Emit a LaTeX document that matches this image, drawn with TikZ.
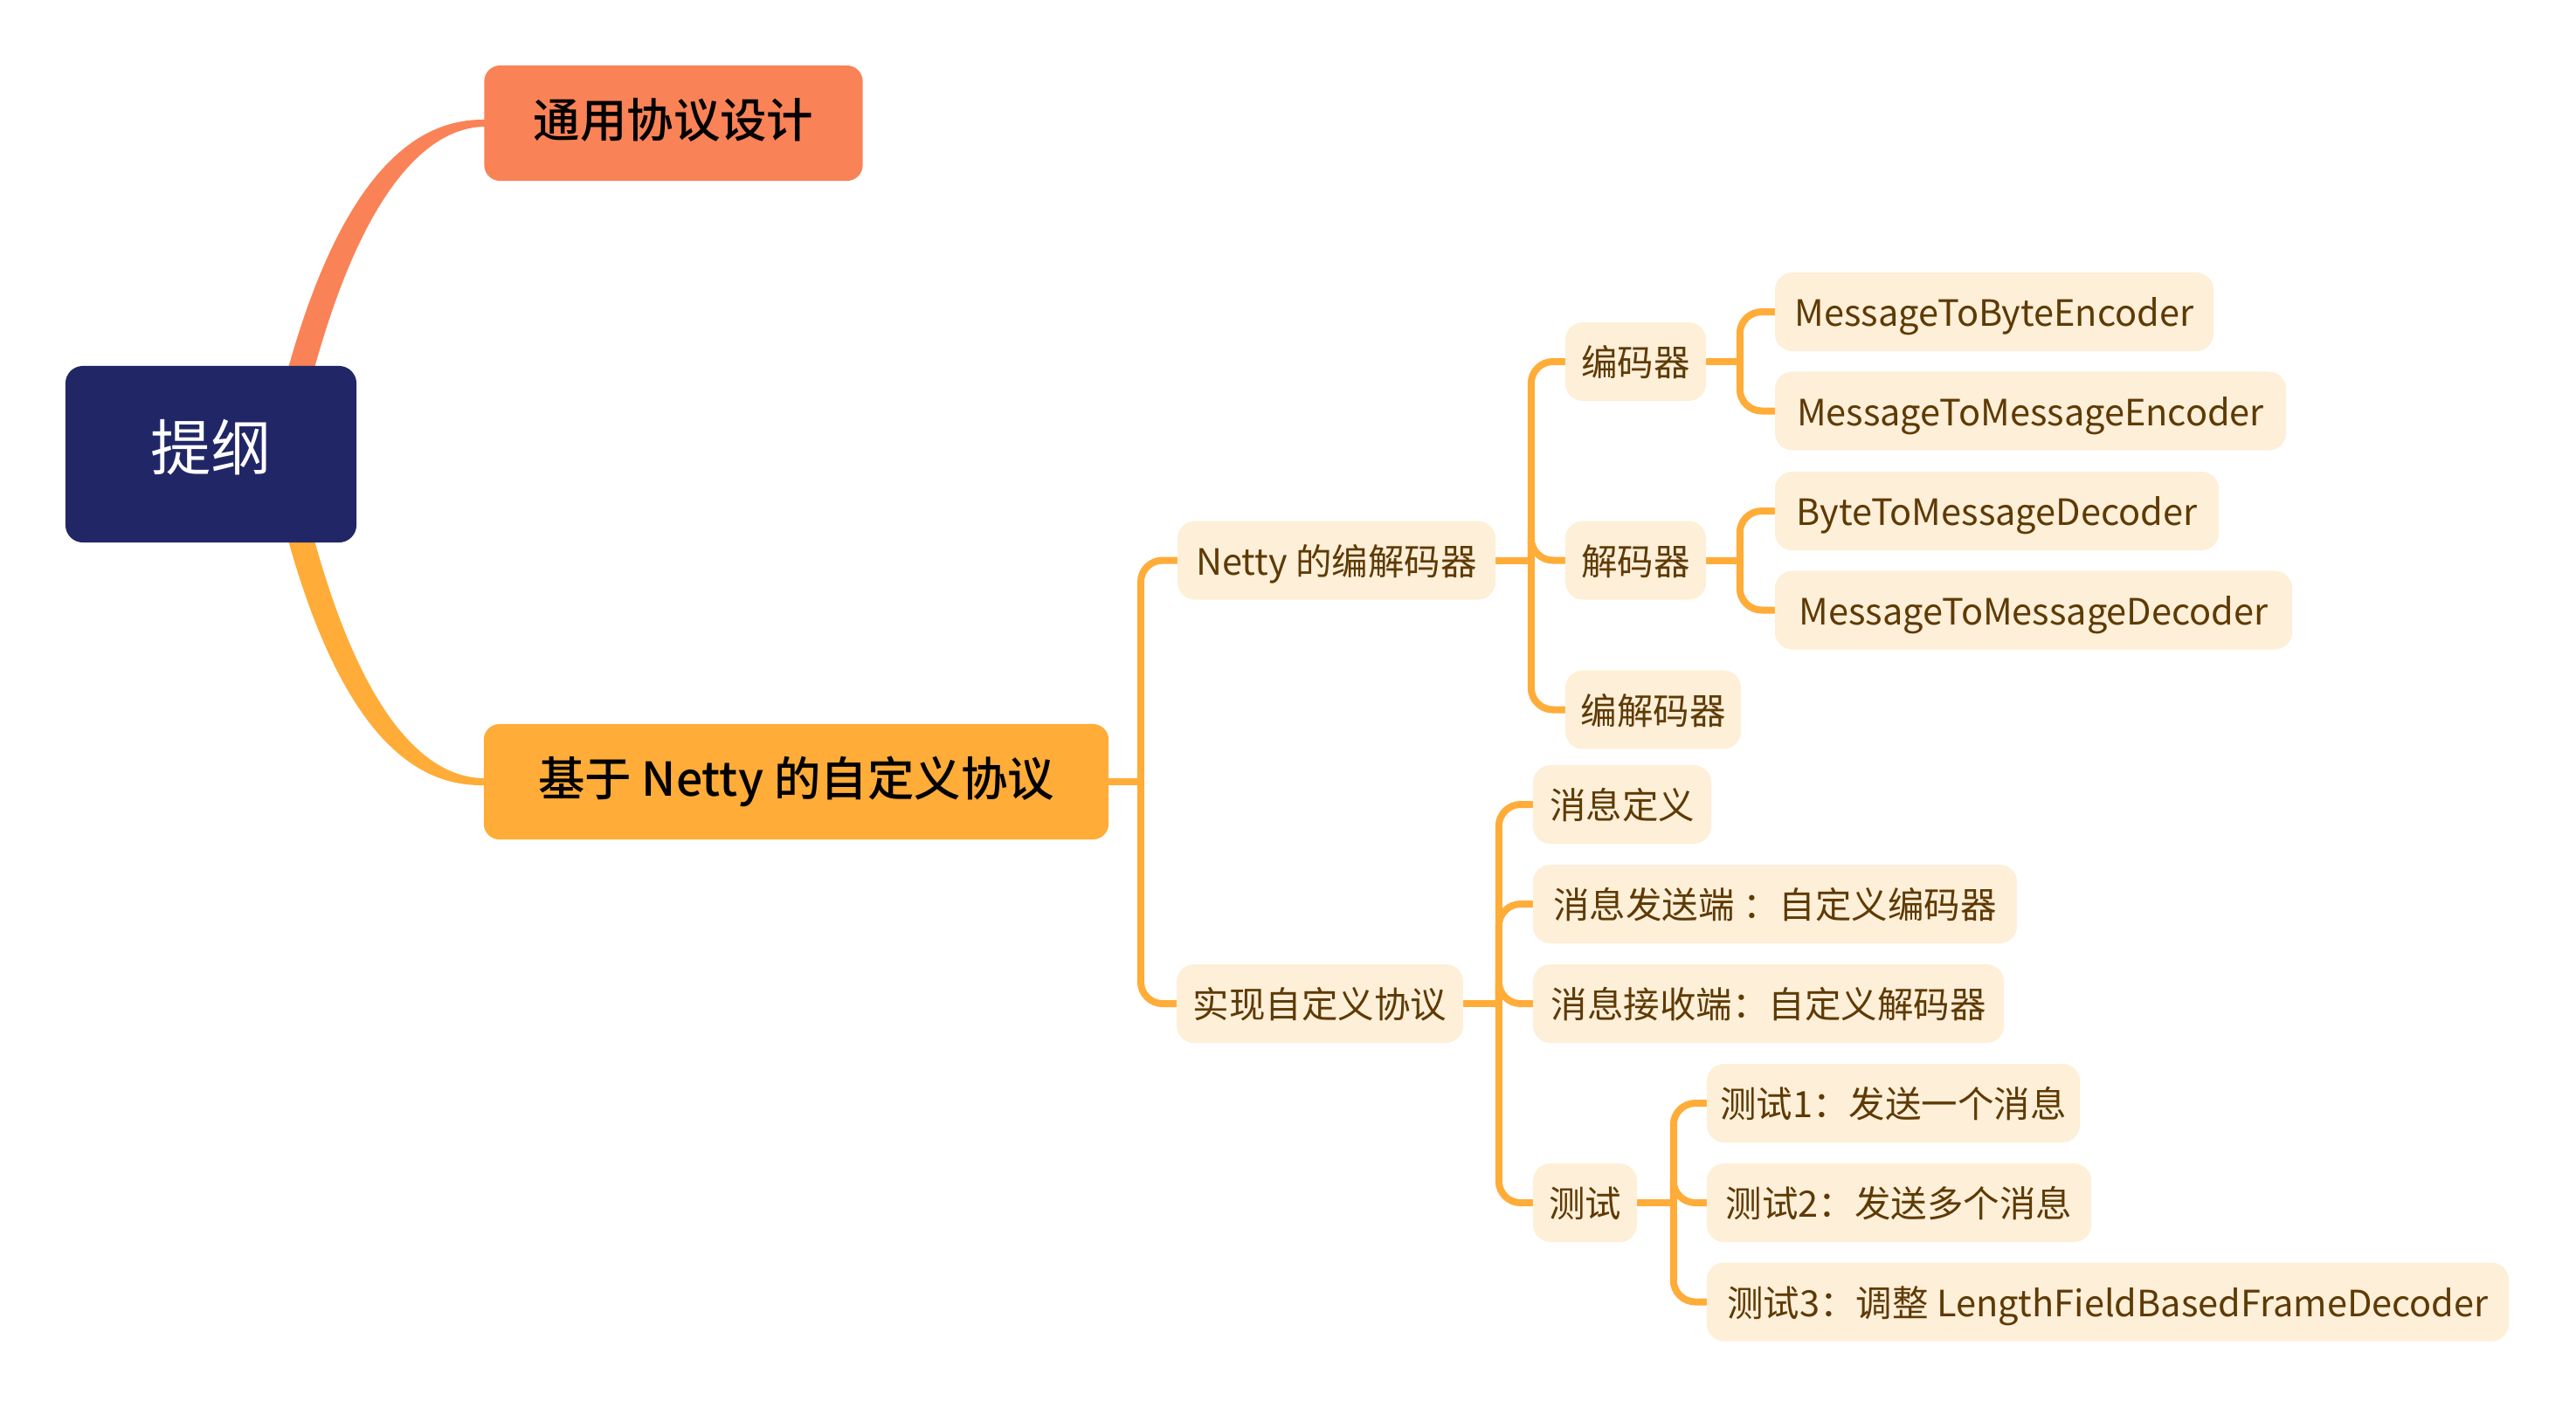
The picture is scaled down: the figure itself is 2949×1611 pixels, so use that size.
\documentclass[tikz,border=0pt]{standalone}
\usepackage{fontspec}
\setmainfont{Noto Sans CJK SC}
\newfontfamily\topicfont{Noto Sans CJK SC Medium}
\usetikzlibrary{calc,backgrounds}

\definecolor{navy}{HTML}{212766}
\definecolor{coral}{HTML}{FA8257}
\definecolor{amber}{HTML}{FFAC38}
\definecolor{cream}{HTML}{FEEFD8}
\definecolor{umber}{HTML}{5E3A05}

\begin{document}
\begin{tikzpicture}[x=0.01cm, y=-0.01cm,
  topic/.style={rounded corners=0.18cm, inner sep=0pt, minimum height=1.32cm,
                text height=0.96em, text depth=0.02em,
                font=\fontsize{15.2}{18}\topicfont, text=black},
  leaf/.style={fill=cream, rounded corners=0.2cm, inner sep=0pt, minimum height=0.9cm,
               text height=0.96em, text depth=0.02em,
               font=\fontsize{11.8}{14}\selectfont, text=umber},
  link/.style={draw=amber, line width=0.08cm, rounded corners=0.25cm, line cap=rect},
]
  \useasboundingbox (0,0) rectangle (2949,1611);

  \node[fill=navy, rounded corners=0.2cm, minimum width=3.33cm, minimum height=2.02cm,
        text height=1.04em, text depth=0em,
        text=white, font=\fontsize{19.7}{24}\selectfont] (root) at (241.5,520) {提纲};
  \node[topic, fill=coral, minimum width=4.33cm] (design) at (771,141) {通用协议设计};
  \node[topic, fill=amber, minimum width=7.15cm] (custom) at (911.5,895) {基于 Netty 的自定义协议};

  % Netty codecs
  \node[leaf, minimum width=3.64cm] (netty) at (1530,641.5) {Netty 的编解码器};
  \node[leaf, minimum width=1.61cm] (enc)   at (1872.5,414) {编码器};
  \node[leaf, minimum width=1.61cm] (dec)   at (1872.5,641.5) {解码器};
  \node[leaf, minimum width=2.01cm] (codec) at (1892.5,812.5) {编解码器};
  \node[leaf, minimum width=5.02cm] (mtbe)  at (2283,357) {MessageToByteEncoder};
  \node[leaf, minimum width=5.85cm] (mtme)  at (2324.5,470.5) {MessageToMessageEncoder};
  \node[leaf, minimum width=5.08cm] (btmd)  at (2286,585) {ByteToMessageDecoder};
  \node[leaf, minimum width=5.92cm] (mtmd)  at (2328,698.5) {MessageToMessageDecoder};

  % own protocol
  \node[leaf, minimum width=3.28cm] (impl)   at (1511,1149) {实现自定义协议};
  \node[leaf, minimum width=2.04cm] (msgdef) at (1857,921) {消息定义};
  \node[leaf, minimum width=5.54cm] (sender) at (2032,1035) {消息发送端 ：自定义编码器};
  \node[leaf, minimum width=5.39cm] (recv)   at (2024.5,1149) {消息接收端：自定义解码器};
  \node[leaf, minimum width=1.19cm] (test)   at (1814.5,1377) {测试};
  \node[leaf, minimum width=4.27cm] (testa)  at (2167.5,1263) {测试1：发送一个消息};
  \node[leaf, minimum width=4.40cm] (testb)  at (2174,1377) {测试2：发送多个消息};
  \node[leaf, minimum width=9.18cm] (testc)  at (2413,1490.5) {测试3：调整 LengthFieldBasedFrameDecoder};

  \begin{scope}[on background layer]
    % tapered main branches
    \fill[coral] ($(root.north east)+(-81,11)$)
      .. controls ($(root.north east)+(-10,-249)$) and ($(design.west)+(-59,-5)$) .. ($(design.west)+(2,-4)$)
      -- ($(design.west)+(2,4)$)
      .. controls ($(design.west)+(-49,4)$) and ($(root.north east)+(14,-229)$) .. ($(root.north east)+(-51,11)$)
      -- cycle;
    \fill[amber] ($(root.south east)+(-81,-11)$)
      .. controls ($(root.south east)+(-10,249)$) and ($(custom.west)+(-59,5)$) .. ($(custom.west)+(2,4)$)
      -- ($(custom.west)+(2,-4)$)
      .. controls ($(custom.west)+(-49,-4)$) and ($(root.south east)+(14,229)$) .. ($(root.south east)+(-51,-11)$)
      -- cycle;

    \coordinate (jc) at ($(custom.east)+(36,0)$);
    \coordinate (jn) at ($(netty.east)+(40,0)$);
    \coordinate (je) at ($(enc.east)+(38,0)$);
    \coordinate (jd) at ($(dec.east)+(38,0)$);
    \coordinate (ji) at ($(impl.east)+(40,0)$);
    \coordinate (jt) at ($(test.east)+(41,0)$);

    \draw[link] (custom.east) -- (jc);
    \foreach \c in {netty,impl} \draw[link] (jc) |- (\c.west);
    \draw[link] (netty.east) -- (jn);
    \foreach \c in {enc,dec,codec} \draw[link] (jn) |- (\c.west);
    \draw[link] (enc.east) -- (je);
    \foreach \c in {mtbe,mtme} \draw[link] (je) |- (\c.west);
    \draw[link] (dec.east) -- (jd);
    \foreach \c in {btmd,mtmd} \draw[link] (jd) |- (\c.west);
    \draw[link] (impl.east) -- (ji);
    \foreach \c in {msgdef,sender,recv,test} \draw[link] (ji) |- (\c.west);
    \draw[link] (test.east) -- (jt);
    \foreach \c in {testa,testb,testc} \draw[link] (jt) |- (\c.west);
  \end{scope}
\end{tikzpicture}
\end{document}
